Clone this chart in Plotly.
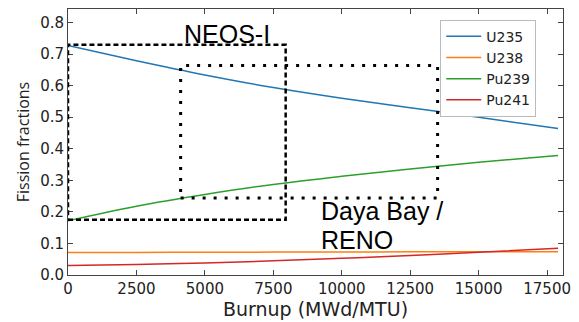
import plotly.graph_objects as go

# Data
burnup = [0, 2500, 5000, 7500, 10000, 12500, 15000, 17900]
u235 = [0.727, 0.679, 0.634, 0.594, 0.560, 0.530, 0.500, 0.464]
u238 = [0.071, 0.0715, 0.072, 0.0725, 0.073, 0.0735, 0.074, 0.074]
pu239 = [0.172, 0.218, 0.255, 0.287, 0.313, 0.336, 0.357, 0.379]
pu241 = [0.030, 0.0335, 0.038, 0.045, 0.053, 0.062, 0.072, 0.085]

series_names = ["U235", "U238", "Pu239", "Pu241"]
series_colors = ["#1f77b4", "#ff7f0e", "#2ca02c", "#d62728"]

x_ticks = [0, 2500, 5000, 7500, 10000, 12500, 15000, 17500]
y_ticks = [0.0, 0.1, 0.2, 0.3, 0.4, 0.5, 0.6, 0.7, 0.8]

# Experiment regions (burnup range, fission-fraction range)
neos_x = [0, 7950]
neos_y = [0.175, 0.730]
dyb_x = [4114, 13500]
dyb_y = [0.244, 0.664]

fig = go.Figure()
for name, vals, col in zip(series_names, [u235, u238, pu239, pu241], series_colors):
    fig.add_trace(go.Scatter(x=burnup, y=vals, mode="lines", name=name,
                             line=dict(color=col, width=1.5, shape="spline")))

fig.add_shape(type="rect", xref="x", yref="y", x0=neos_x[0], x1=neos_x[1],
              y0=neos_y[0], y1=neos_y[1],
              line=dict(color="black", width=2.5, dash="5px,3px"))
fig.add_shape(type="rect", xref="x", yref="y", x0=dyb_x[0], x1=dyb_x[1],
              y0=dyb_y[0], y1=dyb_y[1],
              line=dict(color="black", width=3, dash="3px,8px"))

# legend shadow
fig.add_shape(type="rect", xref="paper", yref="paper",
              x0=0.760, x1=0.934, y0=0.600, y1=0.945,
              line=dict(width=0), fillcolor="rgba(120,120,120,0.4)", layer="above")

fig.add_annotation(x=4150, y=0.765, xref="x", yref="y", text="NEOS-I",
                   showarrow=False, xanchor="left", yanchor="middle",
                   font=dict(family="Liberation Sans", size=25, color="black"))
fig.add_annotation(x=9170, y=0.203, xref="x", yref="y", text="Daya Bay /",
                   showarrow=False, xanchor="left", yanchor="middle",
                   font=dict(family="Liberation Sans", size=25, color="black"))
fig.add_annotation(x=9170, y=0.110, xref="x", yref="y", text="RENO",
                   showarrow=False, xanchor="left", yanchor="middle",
                   font=dict(family="Liberation Sans", size=25, color="black"))

axis_common = dict(showline=True, linecolor="#444", linewidth=1, mirror="ticks",
                   ticks="inside", ticklen=5, tickcolor="#444", showgrid=False,
                   zeroline=False,
                   tickfont=dict(family="DejaVu Sans", size=15, color="#222"))

fig.update_xaxes(range=[0, 18080], tickvals=x_ticks, tickformat="d",
                 title=dict(text="Burnup (MWd/MTU)", standoff=3,
                            font=dict(family="DejaVu Sans", size=19, color="#222")),
                 **axis_common)
fig.update_yaxes(range=[0, 0.843], tickvals=y_ticks, tickformat=".1f",
                 title=dict(text="Fission fractions", standoff=6,
                            font=dict(family="Open Sans", size=16, color="#222")),
                 **axis_common)

fig.update_layout(
    width=579, height=322,
    margin=dict(l=68, r=10, t=8, b=38),
    plot_bgcolor="white", paper_bgcolor="white",
    legend=dict(x=0.752, y=0.96, xanchor="left", yanchor="top",
                bgcolor="white", bordercolor="#bbb", borderwidth=1,
                itemwidth=35,
                font=dict(family="DejaVu Sans", size=14, color="#222"),
                tracegroupgap=0),
    showlegend=True,
)

fig.write_html("out.html")
